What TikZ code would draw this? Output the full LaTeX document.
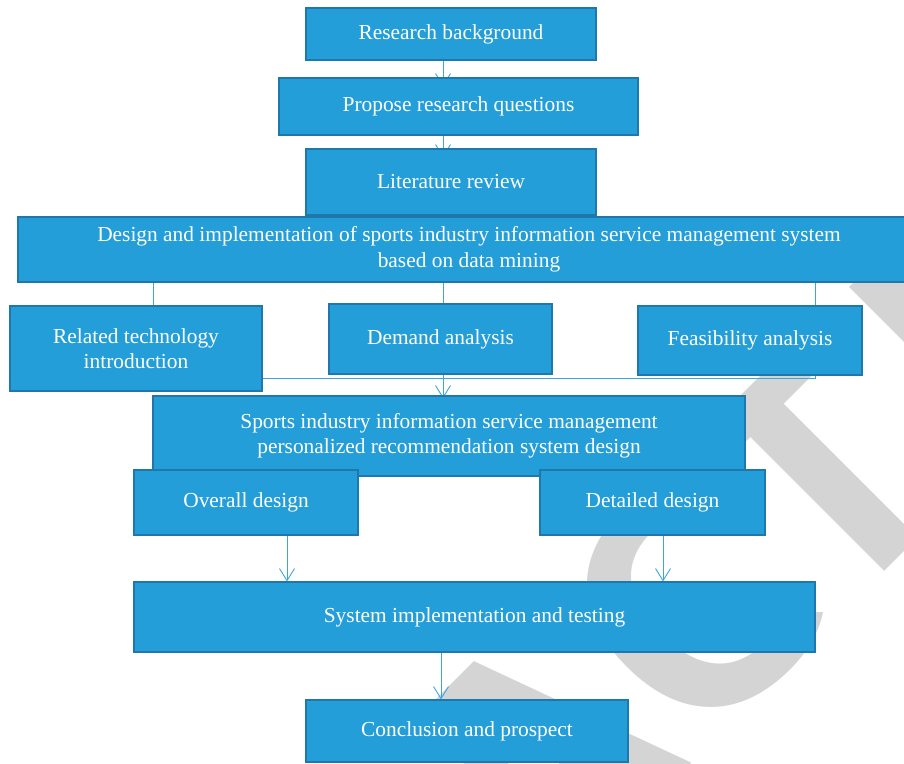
\documentclass[tikz,border=0pt]{standalone}
\usepackage{fontspec}
\setmainfont{Liberation Serif}
\newfontfamily\markfont{Liberation Sans}
\usetikzlibrary{arrows.meta}

\definecolor{boxfill}{RGB}{35,158,216}
\definecolor{boxedge}{RGB}{30,120,172}
\definecolor{linkblue}{RGB}{62,164,222}
\definecolor{markgray}{RGB}{212,212,212}

\pgfdeclarelayer{stamp}
\pgfdeclarelayer{links}
\pgfsetlayers{stamp,links,main}

\tikzset{
  flowbox/.style={rectangle, draw=boxedge, fill=boxfill, line width=1.2pt,
    text=white, align=center, inner sep=0pt,
    font=\fontsize{21.4}{25.5}\selectfont},
  link/.style={draw=linkblue, line width=0.9pt,
    -{Straight Barb[length=12pt,width=15pt]}},
  plainlink/.style={draw=linkblue, line width=0.9pt},
}

\begin{document}
\begin{tikzpicture}[x=1pt,y=-1pt]
\useasboundingbox (0,0) rectangle (904,763);

% flowchart boxes
\node[flowbox, minimum width=290pt, minimum height=52pt] (bg) at (451,34) {Research background};
\node[flowbox, minimum width=359pt, minimum height=57pt] (rq) at (458.5,106.5) {Propose research questions};
\node[flowbox, minimum width=290pt, minimum height=66pt] (lit) at (451,182) {Literature review};
\node[flowbox, minimum width=902pt, minimum height=65pt] (sys) at (469,249.5)
  {Design and implementation of sports industry information service management system\\based on data mining};
\node[flowbox, minimum width=252pt, minimum height=85pt] (tech) at (136,348.5) {Related technology\\introduction};
\node[flowbox, minimum width=223pt, minimum height=70pt] (dem) at (440.5,339) {Demand analysis};
\node[flowbox, minimum width=224pt, minimum height=69pt] (feas) at (750,340.5) {Feasibility analysis};
\node[flowbox, minimum width=592pt, minimum height=80pt] (rec) at (449,436)
  {Sports industry information service management\\personalized recommendation system design};
\node[flowbox, minimum width=224pt, minimum height=65pt] (ovr) at (246,502.5) {Overall design};
\node[flowbox, minimum width=225pt, minimum height=65pt] (det) at (652.5,502.5) {Detailed design};
\node[flowbox, minimum width=681pt, minimum height=70pt] (impl) at (474.5,617) {System implementation and testing};
\node[flowbox, minimum width=322pt, minimum height=62pt] (conc) at (467,731) {Conclusion and prospect};

% x positions of the vertical connectors
\coordinate (xc) at (443,0);
\coordinate (xl) at (153,0);
\coordinate (xr) at (815,0);
\coordinate (xo) at (287,0);
\coordinate (xd) at (663,0);
\coordinate (xs) at (441,0);
\coordinate (ymerge) at (0,378);

\begin{pgfonlayer}{links}
  \draw[link, shorten >=-9pt] (bg.south -| xc) -- (rq.north -| xc);
  \draw[link, shorten >=-9pt] (rq.south -| xc) -- (lit.north -| xc);
  \draw[link, shorten >=-9pt] (lit.south -| xc) -- (sys.north -| xc);
  \draw[link, shorten >=-14pt] (sys.south -| xl) -- (tech.north -| xl);
  \draw[link, shorten >=-14pt] (sys.south -| xc) -- (dem.north -| xc);
  \draw[link, shorten >=-14pt] (sys.south -| xr) -- (feas.north -| xr);
  \draw[plainlink] (feas.south -| xr) |- (tech.east |- ymerge);
  \draw[link, shorten >=-3pt] (dem.south -| xc) -- (rec.north -| xc);
  \draw[link] (rec.south -| xo) -- (ovr.north -| xo);
  \draw[link] (rec.south -| xd) -- (det.north -| xd);
  \draw[link] (ovr.south -| xo) -- (impl.north -| xo);
  \draw[link] (det.south -| xd) -- (impl.north -| xd);
  \draw[link] (impl.south -| xs) -- (conc.north -| xs);
\end{pgfonlayer}

% large grey stamp behind everything; the notch (wound the other way) opens the mouth of the C
\begin{pgfonlayer}{stamp}
  \begin{scope}
    \clip (0,0) -- (904,0) -- (904,763) -- (0,763) -- cycle
          (766,540) -- (766,612) -- (852,612) -- (852,540) -- cycle;
    \node[text=markgray, rotate=45, anchor=base west, inner sep=0pt,
      font=\markfont\bfseries\fontsize{328}{328}\selectfont] (stampword) at (-100.9,1556.3)
      {RETRAC\kern-50pt T\kern30pt ED};
  \end{scope}
\end{pgfonlayer}
\end{tikzpicture}
\end{document}
